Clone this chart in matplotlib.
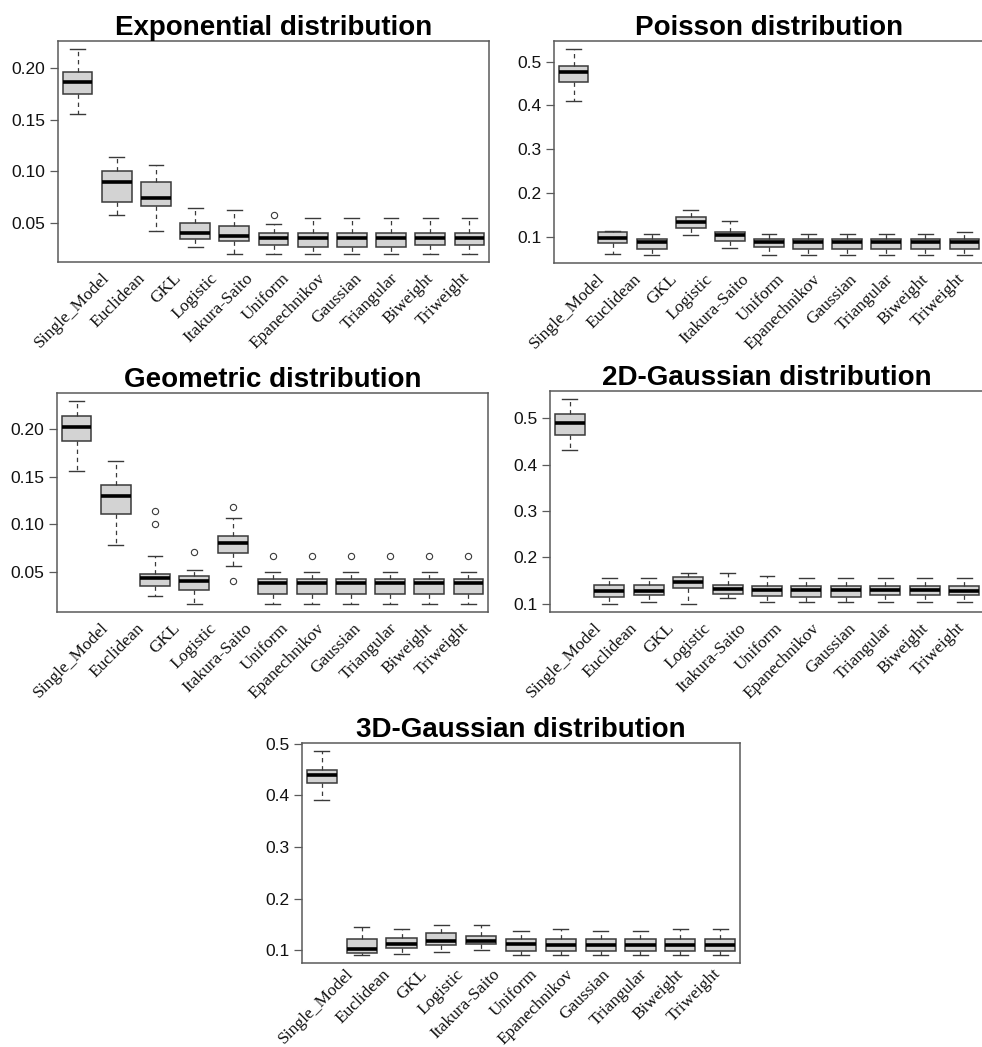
import numpy as np
import matplotlib
matplotlib.use('Agg')
import matplotlib.pyplot as plt
from matplotlib import transforms

methods = ['Single_Model', 'Euclidean', 'GKL', 'Logistic', 'Itakura-Saito', 'Uniform',
           'Epanechnikov', 'Gaussian', 'Triangular', 'Biweight', 'Triweight']

# columns: lower whisker, Q1, median, Q3, upper whisker
exp_stats = [[0.1558, 0.1748, 0.1861, 0.1958, 0.2184],
             [0.0577, 0.0700, 0.0897, 0.1000, 0.1135],
             [0.0419, 0.0668, 0.0745, 0.0897, 0.1065],
             [0.0264, 0.0342, 0.0400, 0.0497, 0.0642],
             [0.0200, 0.0323, 0.0368, 0.0474, 0.0623],
             [0.0200, 0.0287, 0.0355, 0.0400, 0.0490],
             [0.0200, 0.0264, 0.0355, 0.0400, 0.0552],
             [0.0200, 0.0264, 0.0355, 0.0400, 0.0552],
             [0.0200, 0.0264, 0.0355, 0.0400, 0.0552],
             [0.0200, 0.0287, 0.0355, 0.0400, 0.0552],
             [0.0200, 0.0287, 0.0355, 0.0400, 0.0552]]
exp_fliers = [[], [], [], [], [], [0.0574], [], [], [], [], []]

poi_stats = [[0.4095, 0.4536, 0.4764, 0.4901, 0.5281],
             [0.0605, 0.0856, 0.0962, 0.1100, 0.1130],
             [0.0590, 0.0726, 0.0886, 0.0947, 0.1068],
             [0.1030, 0.1198, 0.1335, 0.1449, 0.1608],
             [0.0749, 0.0900, 0.1038, 0.1106, 0.1357],
             [0.0590, 0.0764, 0.0871, 0.0947, 0.1068],
             [0.0590, 0.0711, 0.0871, 0.0947, 0.1068],
             [0.0590, 0.0711, 0.0871, 0.0947, 0.1068],
             [0.0590, 0.0711, 0.0871, 0.0947, 0.1068],
             [0.0590, 0.0711, 0.0871, 0.0947, 0.1068],
             [0.0590, 0.0711, 0.0871, 0.0947, 0.1100]]
poi_fliers = [[] for _ in methods]

geo_stats = [[0.1557, 0.1878, 0.2024, 0.2143, 0.2297],
             [0.0782, 0.1107, 0.1299, 0.1409, 0.1669],
             [0.0245, 0.0353, 0.0430, 0.0475, 0.0667],
             [0.0161, 0.0311, 0.0405, 0.0451, 0.0517],
             [0.0563, 0.0692, 0.0803, 0.0873, 0.1068],
             [0.0161, 0.0270, 0.0378, 0.0423, 0.0493],
             [0.0161, 0.0270, 0.0378, 0.0423, 0.0493],
             [0.0161, 0.0270, 0.0378, 0.0423, 0.0493],
             [0.0161, 0.0270, 0.0378, 0.0423, 0.0493],
             [0.0161, 0.0270, 0.0378, 0.0423, 0.0493],
             [0.0161, 0.0270, 0.0378, 0.0423, 0.0493]]
geo_fliers = [[], [], [0.1138, 0.1006], [0.0712], [0.1180, 0.0402],
              [0.0667], [0.0667], [0.0667], [0.0667], [0.0667], [0.0667]]

g2d_stats = [[0.4313, 0.4628, 0.4886, 0.5093, 0.5408],
             [0.1000, 0.1150, 0.1286, 0.1415, 0.1558],
             [0.1029, 0.1193, 0.1286, 0.1415, 0.1558],
             [0.1000, 0.1336, 0.1472, 0.1572, 0.1673],
             [0.1122, 0.1222, 0.1315, 0.1415, 0.1673],
             [0.1029, 0.1172, 0.1300, 0.1394, 0.1608],
             [0.1029, 0.1150, 0.1300, 0.1379, 0.1558],
             [0.1029, 0.1150, 0.1300, 0.1379, 0.1558],
             [0.1029, 0.1193, 0.1300, 0.1379, 0.1558],
             [0.1029, 0.1193, 0.1300, 0.1379, 0.1558],
             [0.1029, 0.1193, 0.1286, 0.1379, 0.1558]]
g2d_fliers = [[] for _ in methods]

g3d_stats = [[0.3913, 0.4249, 0.4398, 0.4495, 0.4858],
             [0.0909, 0.0942, 0.1032, 0.1207, 0.1440],
             [0.0922, 0.1039, 0.1117, 0.1227, 0.1401],
             [0.0961, 0.1097, 0.1175, 0.1324, 0.1479],
             [0.1000, 0.1117, 0.1175, 0.1278, 0.1479],
             [0.0909, 0.0974, 0.1117, 0.1207, 0.1375],
             [0.0909, 0.0974, 0.1097, 0.1207, 0.1401],
             [0.0909, 0.0974, 0.1097, 0.1207, 0.1375],
             [0.0909, 0.0974, 0.1097, 0.1207, 0.1375],
             [0.0909, 0.0974, 0.1097, 0.1207, 0.1401],
             [0.0909, 0.0974, 0.1097, 0.1207, 0.1401]]
g3d_fliers = [[] for _ in methods]

yt_small = [0.05, 0.10, 0.15, 0.20]
yt_big = [0.1, 0.2, 0.3, 0.4, 0.5]

# title, stats, fliers, ticks, tick format, axes box in pixels, label drop in px
panels = [
    ('Exponential distribution', exp_stats, exp_fliers, yt_small, '%.2f', [58, 41, 489, 262], 8),
    ('Poisson distribution', poi_stats, poi_fliers, yt_big, '%.1f', [554, 41, 984, 263], 8),
    ('Geometric distribution', geo_stats, geo_fliers, yt_small, '%.2f', [57, 393, 488, 612], 8),
    ('2D-Gaussian distribution', g2d_stats, g2d_fliers, yt_big, '%.1f', [550, 391, 984, 612], 8),
    ('3D-Gaussian distribution', g3d_stats, g3d_fliers, yt_big, '%.1f', [302, 743, 740, 963], 3),
]

W, H = 982, 1047
fig = plt.figure(figsize=(W / 100, H / 100), dpi=100)
edge = '#3a3a3a'
frame = '#5a5a5a'

for title, stats, fliers, yticks, fmt, (x0, y0, x1, y1), drop in panels:
    ax = fig.add_axes([x0 / W, 1 - y1 / H, (x1 - x0) / W, (y1 - y0) / H])
    bstats = []
    for name, s, f in zip(methods, stats, fliers):
        bstats.append({'label': name, 'whislo': s[0], 'q1': s[1], 'med': s[2],
                       'q3': s[3], 'whishi': s[4], 'fliers': f})
    ax.bxp(bstats, positions=np.arange(1, 12), widths=0.76, capwidths=0.38,
           patch_artist=True, showfliers=True,
           boxprops=dict(facecolor='#d3d3d3', edgecolor=edge, linewidth=1.1),
           medianprops=dict(color='black', linewidth=2.6),
           whiskerprops=dict(color=edge, linewidth=0.9, linestyle=(0, (3.5, 3))),
           capprops=dict(color=edge, linewidth=1.0),
           flierprops=dict(marker='o', markerfacecolor='none', markeredgecolor=edge,
                           markersize=4.5, markeredgewidth=0.8))

    vals = np.array(stats)
    lo = min(vals.min(), min([v for f in fliers for v in f], default=vals.min()))
    hi = max(vals.max(), max([v for f in fliers for v in f], default=vals.max()))
    pad = 0.04 * (hi - lo)
    ax.set_ylim(lo - pad, hi + pad)
    ax.set_xlim(0.5, 11.5)

    ax.set_yticks(yticks)
    ax.set_yticklabels([fmt % t for t in yticks], fontsize=12.5, family='Liberation Sans',
                       color='#111111')
    ax.tick_params(axis='y', direction='out', length=6, width=0.9, color=frame, pad=3)
    ax.set_xticks([])
    for sp in ax.spines.values():
        sp.set_color(frame)
        sp.set_linewidth(1.1)

    ax.set_title(title, fontsize=20, fontweight='bold', family='Liberation Sans', pad=4)

    # rotated category labels, spaced a bit tighter than the boxes
    offs = transforms.ScaledTranslation(0, -drop / 100, fig.dpi_scale_trans)
    lab_x = np.linspace(1.6, 10.8, len(methods))
    for lx, name in zip(lab_x, methods):
        ax.text(lx, 0, name, transform=ax.get_xaxis_transform() + offs,
                rotation=45, ha='right', va='top', rotation_mode='anchor',
                fontsize=12.5, family='Liberation Serif', color='#111111')

fig.savefig('out.png', dpi=100, facecolor='white')
